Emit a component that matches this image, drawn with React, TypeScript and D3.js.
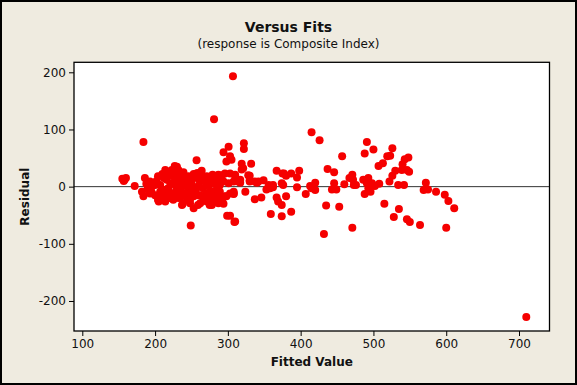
import React, { useEffect, useRef } from 'react';
import * as d3 from 'd3';

// fitted values and residuals
const fitted: number[] = [
  307, 281, 184, 415, 426, 491, 488, 500, 526, 519, 523, 507, 513, 457,
  301, 294, 303, 305, 298, 322, 322, 257, 319, 332, 321, 319, 367, 543, 548, 540, 530, 539, 546, 549, 526,
  486, 493, 491, 498, 502, 508, 522, 534, 542, 488, 496, 493, 572, 569, 575, 586, 598, 603, 611, 515, 535, 528, 546, 550, 564, 600,
  377, 387, 398, 395, 380, 375, 437, 446, 303, 310, 308, 317, 330, 330, 340, 349, 337, 353, 362, 358, 376, 395, 413, 420, 420, 415,
  407, 446, 443, 449, 460, 471, 472, 467, 473, 476,
  324, 308, 337, 346, 367, 369, 374, 380, 387, 374, 359, 435, 453, 432, 471, 309, 303,
  285, 292, 296, 310, 287, 294, 301, 314, 317, 328, 330, 342, 356, 362, 374,
  282, 289, 292, 296, 308, 298, 303, 308, 287,
  155, 158, 160, 157, 172, 184, 182, 186, 190, 193, 198, 195, 200, 204, 200, 193, 205, 207, 207, 207,
  214, 223, 230, 216, 225, 237, 227, 239, 253, 264, 279, 287, 221, 232, 246, 257, 271, 262, 278,
  221, 232, 243, 216, 218, 225, 230, 234, 239, 246, 250, 255, 262, 266, 273, 280, 285, 248, 257, 271,
  214, 225, 237, 248, 259, 271, 214, 232, 243, 253, 262, 271, 280, 287,
  225, 238, 248, 259, 271, 278, 278, 214, 237, 248, 262, 275, 287, 253, 249,
  294, 299, 310,
  188, 191, 196, 202, 210, 212, 219, 228, 235, 241, 245, 252, 260, 268, 276, 283, 289, 204, 210, 220,
  228, 236, 244, 258, 266, 274, 282, 230, 240, 250,
  710,
];

const residuals: number[] = [
  193, 118, 78, 95, 81, 78, 58, 65, 67, 53, 54, 36, 41, 53,
  70, 60, 53, 47, 44, 76, 66, 46, 40, 40, 32, 30, 28, 48, 51, 39, 28, 29, 29, 26, 19,
  12, 15, 6, 6, 1, 5, 9, 3, 3, -13, -9, -3, 7, -6, -5, -9, -14, -25, -38, -30, -39, -53, -57, -62, -67, -72,
  23, 23, 28, 16, 19, 23, 31, 25, 23, 21, 9, 7, 19, 11, 7, 11, 9, -5, -1, -3, 3, -1, 1, 7, -6, -3,
  -13, 6, -5, -5, 4, 21, 12, 15, 3, 3,
  -9, -12, -22, -19, -19, -26, -32, -17, -44, -52, -48, -33, -35, -83, -72, -62, -51,
  18, 20, 23, 18, 9, 9, 6, 9, 12, 20, 9, 9, 3, 3, 6,
  -12, -9, -26, -17, -9, -17, -12, -13, -6,
  14, 12, 15, 10, 1, -17, -9, 15, -2, 9, 6, -9, -15, -23, 3, -12, -26, -17, 3, -9,
  29, 29, 35, 20, 18, 23, 36, 25, 22, 28, 21, 21, 26, 29, 18, 15, 18, 18, 15,
  6, 9, 9, 12, -3, 6, -6, 12, 3, -3, 6, -9, 9, -3, 3, 6, -3, 0, -3, 6,
  -12, -15, -17, -12, -15, -12, -17, -20, -15, -17, -15, -17, -12, -17,
  -23, -30, -29, -32, -26, -16, -32, -26, -32, -23, -29, -32, -29, -38, -68,
  -30, -51, -61,
  5, -6, 1, 10, -5, 15, -8, 2, -8, 14, -22, -6, 2, 11, -7, 10, 3, 18, 22, -20,
  -10, -2, 4, 24, -20, -22, -24, 20, -12, 14,
  -228,
];

const xTicks = [100, 200, 300, 400, 500, 600, 700];
const yTicks = [200, 100, 0, -100, -200];

const width = 577;
const height = 385;
const font = "'DejaVu Sans', Verdana, sans-serif";

export default function App() {
  const ref = useRef<SVGSVGElement>(null);

  useEffect(() => {
    const svg = d3.select(ref.current);
    svg.selectAll('*').remove();

    const plot = { left: 74, right: 549.5, top: 62.3, bottom: 331 };

    const x = d3.scaleLinear().domain([88.6, 741.9]).range([plot.left, plot.right]);
    const y = d3.scaleLinear().domain([217.5, -252.5]).range([plot.top, plot.bottom]);

    // figure background and frame
    svg.append('rect')
      .attr('x', 1).attr('y', 1)
      .attr('width', width - 2).attr('height', height - 2)
      .attr('fill', '#efebe0')
      .attr('stroke', '#000')
      .attr('stroke-width', 2);

    svg.append('rect')
      .attr('x', plot.left).attr('y', plot.top)
      .attr('width', plot.right - plot.left)
      .attr('height', plot.bottom - plot.top)
      .attr('fill', '#fff');

    // titles
    svg.append('text')
      .attr('x', width / 2).attr('y', 32)
      .attr('text-anchor', 'middle')
      .style('font-family', font).style('font-size', '14px').style('font-weight', 'bold')
      .attr('fill', '#111')
      .text('Versus Fits');

    svg.append('text')
      .attr('x', width / 2).attr('y', 48)
      .attr('text-anchor', 'middle')
      .style('font-family', font).style('font-size', '12px')
      .attr('fill', '#111')
      .text('(response is Composite Index)');

    // axes
    const xAxis = svg.append('g')
      .attr('transform', `translate(0, ${plot.bottom})`)
      .call(d3.axisBottom(x).tickValues(xTicks).tickSize(5).tickSizeOuter(0).tickPadding(3));
    const yAxis = svg.append('g')
      .attr('transform', `translate(${plot.left}, 0)`)
      .call(d3.axisLeft(y).tickValues(yTicks).tickSize(5).tickSizeOuter(0).tickPadding(3)
        .tickFormat((d) => String(d)));

    [xAxis, yAxis].forEach((g) => {
      g.select('.domain').remove();
      g.selectAll('line').attr('stroke', '#000');
      g.selectAll('text')
        .style('font-family', font).style('font-size', '12px')
        .attr('fill', '#111');
    });

    svg.append('text')
      .attr('x', (plot.left + plot.right) / 2).attr('y', 366)
      .attr('text-anchor', 'middle')
      .style('font-family', font).style('font-size', '12px').style('font-weight', 'bold')
      .attr('fill', '#111')
      .text('Fitted Value');

    svg.append('text')
      .attr('transform', `translate(29, ${(plot.top + plot.bottom) / 2}) rotate(-90)`)
      .attr('text-anchor', 'middle')
      .style('font-family', font).style('font-size', '12px').style('font-weight', 'bold')
      .attr('fill', '#111')
      .text('Residual');

    // reference line at zero
    svg.append('line')
      .attr('x1', plot.left).attr('x2', plot.right)
      .attr('y1', y(0)).attr('y2', y(0))
      .attr('stroke', '#333')
      .attr('stroke-width', 1);

    // points
    svg.append('g')
      .selectAll('circle')
      .data(fitted.map((f, i) => [f, residuals[i]]))
      .enter()
      .append('circle')
      .attr('cx', (d) => x(d[0]))
      .attr('cy', (d) => y(d[1]))
      .attr('r', 4)
      .attr('fill', '#f50000');

    // plot frame on top
    svg.append('rect')
      .attr('x', plot.left).attr('y', plot.top)
      .attr('width', plot.right - plot.left)
      .attr('height', plot.bottom - plot.top)
      .attr('fill', 'none')
      .attr('stroke', '#000')
      .attr('stroke-width', 1.3);
  }, []);

  return (
    <>
      <style>{'body { margin: 0; }'}</style>
      <svg ref={ref} width={width} height={height} style={{ display: 'block' }} />
    </>
  );
}
